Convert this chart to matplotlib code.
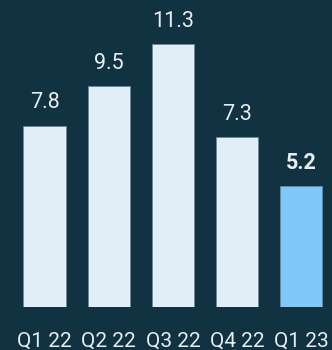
import matplotlib
matplotlib.use("Agg")
from matplotlib import pyplot as plt

quarters = ["Q1 22", "Q2 22", "Q3 22", "Q4 22", "Q1 23"]
values = [7.8, 9.5, 11.3, 7.3, 5.2]

bg = "#113240"
bar_col = "#e2eef8"
last_col = "#80c8fa"
txt_col = "#e8eef2"

plt.rcParams['font.family'] = ['Roboto', 'DejaVu Sans']

fig = plt.figure(figsize=(3.32, 3.5), dpi=100, facecolor=bg)
ax = fig.add_axes([0, 0.1229, 1, 0.8771])
ax.set_facecolor(bg)

x = list(range(len(values)))
colors = [bar_col] * (len(values) - 1) + [last_col]
ax.bar(x, values, width=0.66, color=colors, edgecolor="#6a8a9c", linewidth=0.6)

for i, v in enumerate(values):
    bold = i == len(values) - 1
    ax.text(i, v + 0.75, f"{v:.1f}", ha="center", va="baseline", fontsize=15.5,
            color=txt_col, fontweight="bold" if bold else "normal")

ax.set_xlim(-0.695, 4.48)
ax.set_ylim(0, 13.2)
ax.set_xticks(x)
ax.set_xticklabels(quarters, fontsize=15, color=txt_col)
ax.tick_params(axis="x", length=0, pad=18)
ax.set_yticks([])
for s in ax.spines.values():
    s.set_visible(False)

fig.savefig("out.png", dpi=100, facecolor=bg)
